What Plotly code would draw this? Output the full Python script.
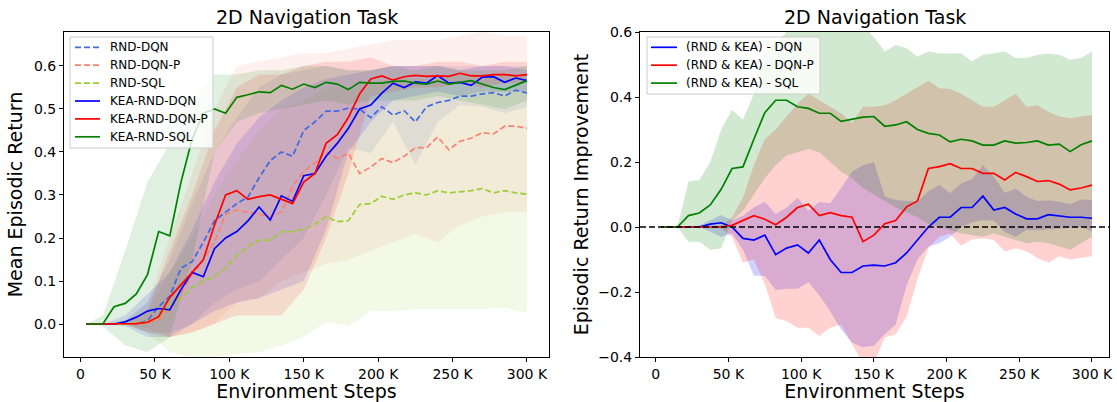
import plotly.graph_objects as go

# steps in thousands
STEPS = [3.75, 7.5, 15, 22.5, 30, 37.5, 45, 52.5, 60, 67.5, 75, 82.5, 90, 97.5, 105, 112.5,
         120, 127.5, 135, 142.5, 150, 157.5, 165, 172.5, 180, 187.5, 195, 202.5, 210, 217.5,
         225, 232.5, 240, 247.5, 255, 262.5, 270, 277.5, 285, 292.5, 300]
BAND_STEPS = [3.75, 15, 30, 45, 60, 75, 90, 105, 120, 135, 150, 165, 180, 195, 210, 225,
              240, 255, 270, 285, 300]

X_TICKS = [0, 50, 100, 150, 200, 250, 300]
X_TICK_TEXT = ["0", "50 K", "100 K", "150 K", "200 K", "250 K", "300 K"]

# ---- left panel: mean episodic return
RND_DQN = [0, 0, 0, 0, 0, 0, 0.008, 0.04, 0.065, 0.13, 0.145, 0.19, 0.24, 0.26, 0.28, 0.295,
           0.34, 0.38, 0.40, 0.39, 0.45, 0.47, 0.495, 0.495, 0.502, 0.50, 0.48, 0.505, 0.486,
           0.496, 0.47, 0.505, 0.515, 0.52, 0.53, 0.53, 0.535, 0.538, 0.53, 0.544, 0.537]
RND_DQN_P = [0, 0, 0, 0, 0, 0, 0.002, 0.01, 0.035, 0.07, 0.115, 0.15, 0.19, 0.255, 0.265, 0.26,
             0.255, 0.25, 0.26, 0.32, 0.355, 0.375, 0.40, 0.385, 0.397, 0.35, 0.365, 0.385, 0.375,
             0.39, 0.41, 0.41, 0.435, 0.405, 0.425, 0.432, 0.445, 0.442, 0.46, 0.46, 0.455]
RND_SQL = [0, 0, 0, 0, 0, 0.002, 0.005, 0.015, 0.045, 0.06, 0.085, 0.10, 0.11, 0.13, 0.16, 0.18,
           0.195, 0.195, 0.215, 0.215, 0.22, 0.232, 0.25, 0.238, 0.24, 0.278, 0.28, 0.297, 0.29,
           0.30, 0.305, 0.30, 0.31, 0.305, 0.308, 0.31, 0.315, 0.305, 0.31, 0.305, 0.302]
KEA_DQN = [0, 0, 0, 0, 0.005, 0.016, 0.03, 0.036, 0.033, 0.08, 0.12, 0.11, 0.175, 0.2, 0.215, 0.24,
           0.272, 0.242, 0.298, 0.285, 0.345, 0.35, 0.39, 0.42, 0.455, 0.50, 0.509, 0.537, 0.56,
           0.55, 0.563, 0.56, 0.578, 0.56, 0.562, 0.555, 0.574, 0.575, 0.562, 0.572, 0.566]
KEA_DQN_P = [0, 0, 0, 0, 0, 0.001, 0.004, 0.017, 0.062, 0.09, 0.12, 0.149, 0.23, 0.30, 0.31, 0.29,
             0.296, 0.30, 0.29, 0.28, 0.33, 0.35, 0.42, 0.44, 0.48, 0.535, 0.57, 0.577, 0.567,
             0.575, 0.578, 0.576, 0.577, 0.576, 0.583, 0.577, 0.577, 0.58, 0.58, 0.577, 0.58]
KEA_SQL = [0, 0, 0, 0.04, 0.048, 0.07, 0.115, 0.215, 0.205, 0.33, 0.43, 0.49, 0.50, 0.49, 0.527,
           0.533, 0.54, 0.538, 0.555, 0.546, 0.558, 0.55, 0.562, 0.558, 0.545, 0.562, 0.56, 0.56,
           0.564, 0.565, 0.56, 0.558, 0.565, 0.558, 0.562, 0.566, 0.558, 0.55, 0.545, 0.555, 0.566]

RND_DQN_LO = [0, 0, 0, -0.02, -0.02, 0.0, 0.05, 0.08, 0.10, 0.15, 0.2, 0.3, 0.41, 0.397, 0.47, 0.37,
              0.47, 0.51, 0.505, 0.49, 0.505]
RND_DQN_HI = [0, 0, 0.005, 0.05, 0.15, 0.28, 0.4, 0.48, 0.55, 0.58, 0.59, 0.6, 0.59, 0.59, 0.6,
              0.6, 0.6, 0.6, 0.6, 0.6, 0.6]
RND_DQN_P_LO = [0, 0, 0, -0.01, -0.03, -0.02, 0.0, 0.05, 0.06, 0.10, 0.12, 0.14, 0.15, 0.17, 0.19,
                0.21, 0.19, 0.23, 0.25, 0.26, 0.26]
RND_DQN_P_HI = [0, 0, 0.01, 0.05, 0.2, 0.35, 0.5, 0.6, 0.61, 0.62, 0.63, 0.63, 0.64, 0.65, 0.66,
                0.66, 0.66, 0.67, 0.68, 0.67, 0.67]
RND_SQL_LO = [0, 0, 0, -0.02, -0.065, -0.077, -0.077, -0.07, -0.065, -0.05, -0.03, 0.005, -0.005,
              0.03, 0.03, 0.035, 0.035, 0.035, 0.035, 0.038, 0.025]
RND_SQL_HI = [0, 0, 0, 0.03, 0.12, 0.2, 0.3, 0.38, 0.45, 0.5, 0.52, 0.55, 0.55, 0.56, 0.57, 0.57,
              0.57, 0.58, 0.58, 0.58, 0.58]
KEA_DQN_LO = [0, 0, -0.005, -0.03, -0.03, 0.0, 0.03, 0.05, 0.06, 0.08, 0.10, 0.22, 0.40, 0.47,
              0.52, 0.53, 0.54, 0.53, 0.54, 0.54, 0.54]
KEA_DQN_HI = [0, 0, 0.02, 0.07, 0.12, 0.22, 0.33, 0.42, 0.48, 0.52, 0.55, 0.57, 0.58, 0.59, 0.6,
              0.6, 0.6, 0.59, 0.6, 0.6, 0.59]
KEA_DQN_P_LO = [0, 0, 0, -0.02, -0.03, -0.02, 0.0, 0.02, 0.02, 0.02, 0.08, 0.2, 0.35, 0.53, 0.54,
                0.55, 0.55, 0.56, 0.55, 0.56, 0.56]
KEA_DQN_P_HI = [0, 0, 0, 0.03, 0.17, 0.3, 0.45, 0.55, 0.58, 0.58, 0.6, 0.61, 0.61, 0.62, 0.6, 0.6,
                0.61, 0.61, 0.6, 0.61, 0.61]
KEA_SQL_LO = [0, -0.005, -0.05, -0.065, -0.03, 0.15, 0.40, 0.47, 0.49, 0.50, 0.51, 0.52, 0.51,
              0.52, 0.52, 0.52, 0.53, 0.52, 0.51, 0.50, 0.52]
KEA_SQL_HI = [0, 0.02, 0.17, 0.33, 0.42, 0.52, 0.58, 0.58, 0.59, 0.59, 0.6, 0.6, 0.59, 0.59, 0.6,
              0.59, 0.6, 0.59, 0.59, 0.59, 0.6]

# ---- right panel: improvement (KEA minus RND), bands on the full step grid
DIFF_DQN = [0, 0, 0, 0, 0, 0.009, 0.013, 0.0, -0.035, -0.04, -0.025, -0.085, -0.065, -0.055, -0.08,
            -0.04, -0.1, -0.14, -0.14, -0.12, -0.117, -0.12, -0.11, -0.08, -0.04, 0.0, 0.03, 0.03,
            0.06, 0.06, 0.095, 0.052, 0.06, 0.04, 0.025, 0.025, 0.038, 0.035, 0.03, 0.03, 0.027]
DIFF_DQN_P = [0, 0, 0, 0, 0, 0, 0, 0.005, 0.02, 0.035, 0.024, 0.007, 0.03, 0.06, 0.07, 0.035, 0.044,
              0.035, 0.03, -0.045, -0.025, 0.01, 0.02, 0.062, 0.08, 0.18, 0.186, 0.195, 0.18, 0.18,
              0.165, 0.165, 0.145, 0.168, 0.155, 0.14, 0.143, 0.132, 0.114, 0.12, 0.129]
DIFF_SQL = [0, 0, 0, 0.035, 0.043, 0.068, 0.116, 0.18, 0.185, 0.27, 0.352, 0.39, 0.39, 0.37, 0.365,
            0.35, 0.35, 0.325, 0.332, 0.338, 0.34, 0.31, 0.314, 0.324, 0.30, 0.288, 0.283, 0.262,
            0.27, 0.265, 0.252, 0.252, 0.265, 0.258, 0.26, 0.265, 0.252, 0.255, 0.232, 0.253, 0.265]

DIFF_DQN_LO = [0, 0, 0, 0, 0, -0.015, -0.03, -0.02, -0.07, -0.15, -0.15, -0.194, -0.19, -0.19,
               -0.17, -0.21, -0.26, -0.315, -0.355, -0.37, -0.365, -0.33, -0.3, -0.18, -0.1, -0.06,
               -0.05, -0.03, 0.0, 0.015, 0.021, 0.02, -0.015, -0.03, -0.009, -0.01, -0.009, -0.005,
               -0.003, 0.0, -0.014]
DIFF_DQN_HI = [0, 0, 0, 0, 0.005, 0.02, 0.037, 0.02, 0.035, 0.06, 0.078, 0.04, 0.06, 0.09, 0.05,
               0.077, 0.073, 0.12, 0.17, 0.19, 0.2, 0.095, 0.083, 0.08, 0.078, 0.11, 0.13, 0.104,
               0.134, 0.147, 0.19, 0.155, 0.105, 0.118, 0.093, 0.08, 0.082, 0.078, 0.07, 0.085, 0.083]
DIFF_DQN_P_LO = [0, 0, 0, 0, 0, 0, -0.005, -0.03, -0.11, -0.1, -0.175, -0.28, -0.29, -0.31, -0.31,
                 -0.335, -0.31, -0.3, -0.36, -0.42, -0.42, -0.34, -0.33, -0.276, -0.16, -0.065,
                 -0.03, -0.02, -0.058, -0.038, -0.035, -0.04, -0.075, -0.065, -0.075, -0.095, -0.11,
                 -0.09, -0.1, -0.094, -0.09]
DIFF_DQN_P_HI = [0, 0, 0, 0, 0, 0, 0.005, 0.03, 0.09, 0.19, 0.27, 0.3, 0.34, 0.38, 0.41, 0.39, 0.37,
                 0.35, 0.32, 0.37, 0.37, 0.375, 0.39, 0.41, 0.43, 0.45, 0.427, 0.425, 0.41, 0.39,
                 0.37, 0.37, 0.39, 0.41, 0.37, 0.375, 0.355, 0.34, 0.335, 0.34, 0.345]
DIFF_SQL_LO = [0, 0, 0, -0.045, -0.045, -0.07, -0.066, 0.02, 0.05, 0.1, 0.15, 0.19, 0.22, 0.23, 0.24,
               0.23, 0.2, 0.17, 0.15, 0.12, 0.1, 0.08, 0.06, 0.045, 0.03, 0.01, 0.0, -0.01, -0.02,
               -0.025, -0.03, -0.02, -0.03, -0.04, -0.05, -0.045, -0.05, -0.06, -0.07, -0.05, -0.03]
DIFF_SQL_HI = [0, 0, 0, 0.14, 0.145, 0.2, 0.3, 0.36, 0.33, 0.41, 0.54, 0.565, 0.6, 0.62, 0.63, 0.65,
               0.65, 0.64, 0.63, 0.62, 0.585, 0.54, 0.56, 0.55, 0.525, 0.54, 0.534, 0.535, 0.535,
               0.51, 0.53, 0.535, 0.54, 0.52, 0.52, 0.53, 0.534, 0.53, 0.515, 0.52, 0.54]

ROYALBLUE = "#4169E1"
SALMON = "#FA8072"
YELLOWGREEN = "#9ACD32"
BLUE = "#0000FF"
RED = "#FF0000"
GREEN = "#008000"
FONT = "DejaVu Sans"
W, H = 1117, 402
DASH = "6px,3px"


def rgba(hex_color, a):
    h = hex_color.lstrip("#")
    r, g, b = int(h[0:2], 16), int(h[2:4], 16), int(h[4:6], 16)
    return f"rgba({r},{g},{b},{a})"


def band(fig, xs, lo, hi, color, alpha, xa, ya):
    fig.add_trace(go.Scatter(
        x=xs + xs[::-1],
        y=hi + lo[::-1],
        fill="toself", fillcolor=rgba(color, alpha),
        line=dict(width=0), mode="lines",
        hoverinfo="skip", showlegend=False,
        xaxis=xa, yaxis=ya,
    ))


def px_x(p):
    return p / W


def px_y(p):
    return 1 - p / H


shapes = []
annotations = []


def legend_box(x0, y0, x1, y1, entries, line_x0, line_x1, text_x, y_first, y_step):
    # matplotlib style legend drawn by hand (pixel positions)
    shapes.append(dict(type="rect", xref="paper", yref="paper",
                       x0=px_x(x0), x1=px_x(x1), y0=px_y(y1), y1=px_y(y0),
                       fillcolor="rgba(255,255,255,0.8)", line=dict(color="#cccccc", width=1),
                       layer="above"))
    for i, (name, color, dash) in enumerate(entries):
        yy = px_y(y_first + i * y_step)
        shapes.append(dict(type="line", xref="paper", yref="paper",
                           x0=px_x(line_x0), x1=px_x(line_x1), y0=yy, y1=yy,
                           line=dict(color=color, width=1.7, dash=dash), layer="above"))
        annotations.append(dict(text=name, x=px_x(text_x), y=yy, xref="paper", yref="paper",
                                xanchor="left", yanchor="middle", showarrow=False,
                                font=dict(size=12, family=FONT, color="black")))


fig = go.Figure()

# ===== left panel
left = [
    ("RND-DQN", RND_DQN, RND_DQN_LO, RND_DQN_HI, ROYALBLUE, DASH),
    ("RND-DQN-P", RND_DQN_P, RND_DQN_P_LO, RND_DQN_P_HI, SALMON, DASH),
    ("RND-SQL", RND_SQL, RND_SQL_LO, RND_SQL_HI, YELLOWGREEN, DASH),
    ("KEA-RND-DQN", KEA_DQN, KEA_DQN_LO, KEA_DQN_HI, BLUE, "solid"),
    ("KEA-RND-DQN-P", KEA_DQN_P, KEA_DQN_P_LO, KEA_DQN_P_HI, RED, "solid"),
    ("KEA-RND-SQL", KEA_SQL, KEA_SQL_LO, KEA_SQL_HI, GREEN, "solid"),
]
for name, y, lo, hi, c, d in left:
    band(fig, BAND_STEPS, lo, hi, c, 0.12, "x", "y")
for name, y, lo, hi, c, d in left:
    fig.add_trace(go.Scatter(
        x=STEPS, y=y, mode="lines", name=name, showlegend=False,
        line=dict(color=c, width=1.7, dash=d),
        xaxis="x", yaxis="y",
    ))

# ===== right panel
right = [
    ("(RND & KEA) - DQN", DIFF_DQN, DIFF_DQN_LO, DIFF_DQN_HI, BLUE),
    ("(RND & KEA) - DQN-P", DIFF_DQN_P, DIFF_DQN_P_LO, DIFF_DQN_P_HI, RED),
    ("(RND & KEA) - SQL", DIFF_SQL, DIFF_SQL_LO, DIFF_SQL_HI, GREEN),
]
for name, y, lo, hi, c in right:
    band(fig, STEPS, lo, hi, c, 0.18, "x2", "y2")
for name, y, lo, hi, c in right:
    fig.add_trace(go.Scatter(
        x=STEPS, y=y, mode="lines", name=name, showlegend=False,
        line=dict(color=c, width=1.7),
        xaxis="x2", yaxis="y2",
    ))

shapes.append(dict(type="line", xref="x2 domain", yref="y2", x0=0, x1=1, y0=0, y1=0,
                   line=dict(color="black", width=1.5, dash=DASH)))

legend_box(70, 37, 213, 148, [(n, c, d) for n, _, _, _, c, d in left],
           75, 100, 108, 47.3, 17.9)
legend_box(647, 37, 820, 94, [(n, c, "solid") for n, _, _, _, c in right],
           651, 677, 684, 47.3, 17.9)

annotations += [
    dict(text="2D Navigation Task", x=px_x(306.5), y=px_y(17), xref="paper", yref="paper",
         xanchor="center", yanchor="middle",
         showarrow=False, font=dict(size=19, family=FONT, color="black")),
    dict(text="2D Navigation Task", x=px_x(874.5), y=px_y(17), xref="paper", yref="paper",
         xanchor="center", yanchor="middle",
         showarrow=False, font=dict(size=19, family=FONT, color="black")),
]

axis_common = dict(
    showline=True, linecolor="black", linewidth=1, mirror=True, automargin=False,
    ticks="outside", ticklen=4, tickcolor="black", showgrid=False, zeroline=False,
    tickfont=dict(size=14, color="black", family=FONT),
    title_font=dict(size=19, color="black", family=FONT),
)

fig.update_layout(
    width=W, height=H,
    margin=dict(l=0, r=0, t=0, b=0),
    plot_bgcolor="white", paper_bgcolor="white",
    font=dict(family=FONT, color="black"),
    showlegend=False,
    xaxis=dict(domain=[px_x(64), px_x(549)], range=[-11.1, 314.8], anchor="y",
               tickvals=X_TICKS, ticktext=X_TICK_TEXT,
               title=dict(text="Environment Steps", standoff=2), **axis_common),
    yaxis=dict(domain=[px_y(357), px_y(32)], range=[-0.0767, 0.679], anchor="x",
               tickvals=[0, 0.1, 0.2, 0.3, 0.4, 0.5, 0.6], tickformat=".1f",
               title=dict(text="Mean Episodic Return", standoff=6), **axis_common),
    xaxis2=dict(domain=[px_x(640), px_x(1109)], range=[-10.8, 311.7], anchor="y2",
                tickvals=X_TICKS, ticktext=X_TICK_TEXT,
                title=dict(text="Environment Steps", standoff=2), **axis_common),
    yaxis2=dict(domain=[px_y(357), px_y(32)], range=[-0.4, 0.6], anchor="x2",
                tickvals=[-0.4, -0.2, 0, 0.2, 0.4, 0.6], tickformat=".1f",
                title=dict(text="Episodic Return Improvement", standoff=4), **axis_common),
    shapes=shapes,
    annotations=annotations,
)

# page body has a default 8px margin; remove it so the figure sits at the window corner
fig.write_html("out.html", config={"displayModeBar": False},
               post_script="document.body.style.margin='0px';")
